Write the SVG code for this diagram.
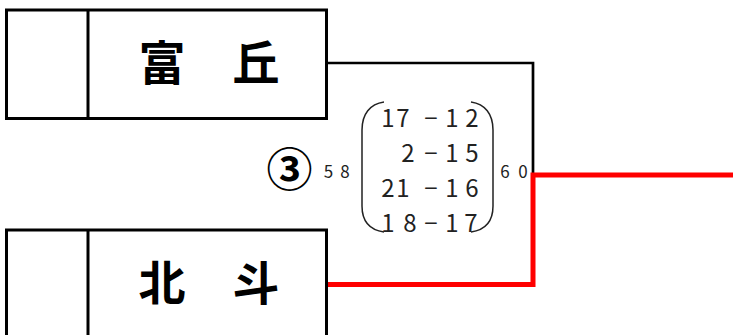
<svg xmlns="http://www.w3.org/2000/svg" width="733" height="335" viewBox="0 0 733 335">
<style>
.box{fill:#fff;stroke:#000;stroke-width:3}
.div{stroke:#000;stroke-width:3}
.name{font-family:"Noto Sans CJK JP","Noto Sans CJK SC",sans-serif;font-weight:bold;font-size:47px;fill:#000;text-anchor:middle}
.num{font-family:"Noto Sans CJK JP","Noto Sans",sans-serif;font-size:24px;fill:#222;text-anchor:middle}
.small{font-family:"Noto Sans CJK JP","Noto Sans",sans-serif;font-size:17px;fill:#222;text-anchor:middle}
.paren{fill:none;stroke:#222;stroke-width:1.5}
.black{fill:none;stroke:#000;stroke-width:2.7}
.red{fill:none;stroke:#ff0000;stroke-width:5}
</style>
<rect width="733" height="335" fill="#fff"/>
<g id="connectors">
<polyline class="black" points="326,63 533,63 533,175"/>
<polyline class="red" points="326,284.5 533,284.5 533,175 733,175"/>
</g>
<g id="node-fuoka">
<rect class="box" x="6.5" y="10" width="320" height="108.5"/>
<line class="div" x1="88" y1="10" x2="88" y2="118.5"/>
<text class="name" x="209" y="80">富　丘</text>
</g>
<g id="node-hokuto">
<rect class="box" x="6.5" y="230" width="320" height="120"/>
<line class="div" x1="88" y1="230" x2="88" y2="340"/>
<text class="name" x="209" y="300">北　斗</text>
</g>
<g id="score">
<text x="289.5" y="186" style="font-family:'Noto Sans CJK JP',sans-serif;font-size:46px;font-weight:bold;fill:#000;text-anchor:middle">③</text>
<text class="small" x="328.5 345" y="178">58</text>
<text class="small" x="505 523" y="178">60</text>
<path class="paren" d="M384,102 C370,104 362,114 362,130 L362,206 C362,222 370,230 384,232"/>
<path class="paren" d="M471,102 C485,104 493,114 493,130 L493,206 C493,222 485,230 471,232"/>
<text class="num" x="388 403 431 452 472" y="127">17−12</text>
<text class="num" x="408 431 452 472" y="162">2−15</text>
<text class="num" x="388 403 431 452 472" y="197">21−16</text>
<text class="num" x="388 410 431 452 471" y="232">18−17</text>
</g>
</svg>
